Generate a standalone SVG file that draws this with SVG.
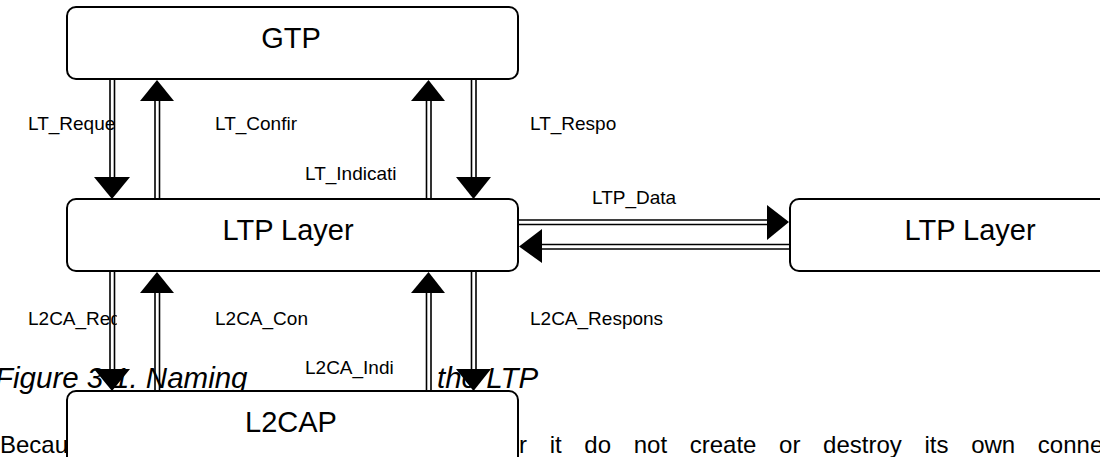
<svg xmlns="http://www.w3.org/2000/svg" width="1100" height="457" viewBox="0 0 1100 457">
<style>
.box{fill:#fff;stroke:#000;stroke-width:2}
.bt{font-family:"Liberation Sans",Arial,sans-serif;font-size:29px;fill:#000;text-anchor:middle}
.lbl{font-family:"Liberation Sans",Arial,sans-serif;font-size:19px;fill:#000}
.cap{font-family:"Liberation Sans",Arial,sans-serif;font-size:29.5px;font-style:italic;fill:#000}
.para{font-family:"Liberation Sans",Arial,sans-serif;font-size:24px;fill:#000}
.rail{stroke:#000;stroke-width:1.6;fill:none}
.head{fill:#000}
</style>
<defs>
<clipPath id="clipLeft"><rect x="0" y="0" width="117" height="457"/></clipPath>
</defs>
<g id="background-text">
<text class="cap" x="-5" y="388">Figure 3-1. Naming</text>
<text class="cap" x="437" y="388">the LTP</text>
<text class="para" x="0" y="453">Becau</text>
<text class="para" x="519" y="453" word-spacing="16">r it do not create or destroy its own conne</text>
</g>
<g id="node-gtp">
<rect class="box" x="67" y="7" width="451" height="72" rx="9"/>
<text class="bt" x="291" y="47.5">GTP</text>
</g>
<g id="node-ltp-left">
<rect class="box" x="67" y="199" width="451" height="72" rx="9"/>
<text class="bt" x="288" y="239.5">LTP Layer</text>
</g>
<g id="node-ltp-right">
<rect class="box" x="790" y="199" width="354" height="72" rx="9"/>
<text class="bt" x="970" y="239.5">LTP Layer</text>
</g>
<g id="node-l2cap">
<rect class="box" x="67" y="391" width="451" height="80" rx="9"/>
<text class="bt" x="291" y="431.5">L2CAP</text>
</g>
<g id="labels">
<text class="lbl" x="28" y="130" clip-path="url(#clipLeft)">LT_Reque</text>
<text class="lbl" x="215" y="130">LT_Confir</text>
<text class="lbl" x="530" y="130">LT_Respo</text>
<text class="lbl" x="305" y="180">LT_Indicati</text>
<text class="lbl" x="592" y="204">LTP_Data</text>
<text class="lbl" x="28" y="325" clip-path="url(#clipLeft)">L2CA_Req</text>
<text class="lbl" x="215" y="325">L2CA_Con</text>
<text class="lbl" x="530" y="325">L2CA_Respons</text>
<text class="lbl" x="305" y="374">L2CA_Indi</text>
</g>
<g id="connectors">
<path class="rail" d="M110,79V178M114.5,79V178"/>
<polygon class="head" points="94,177 130,177 112,199"/>
<path class="rail" d="M155,100V199M159.5,100V199"/>
<polygon class="head" points="140,101 174,101 157,80"/>
<path class="rail" d="M426.5,100V199M431,100V199"/>
<polygon class="head" points="411,101 445,101 428.5,80"/>
<path class="rail" d="M471.5,79V178M476,79V178"/>
<polygon class="head" points="456,177 491,177 473.5,199"/>
<path class="rail" d="M110,271V370M114.5,271V370"/>
<polygon class="head" points="94,369 130,369 112,391"/>
<path class="rail" d="M155,292V391M159.5,292V391"/>
<polygon class="head" points="140,293 174,293 157,272"/>
<path class="rail" d="M426.5,292V391M431,292V391"/>
<polygon class="head" points="411,293 445,293 428.5,272"/>
<path class="rail" d="M471.5,271V370M476,271V370"/>
<polygon class="head" points="456,369 491,369 473.5,391"/>
<path class="rail" d="M518,220H768M518,224.5H768"/>
<polygon class="head" points="767,205 767,240 789,222"/>
<path class="rail" d="M541,244.5H790M541,249H790"/>
<polygon class="head" points="542,229 542,263 519,246.5"/>
</g>
</svg>
